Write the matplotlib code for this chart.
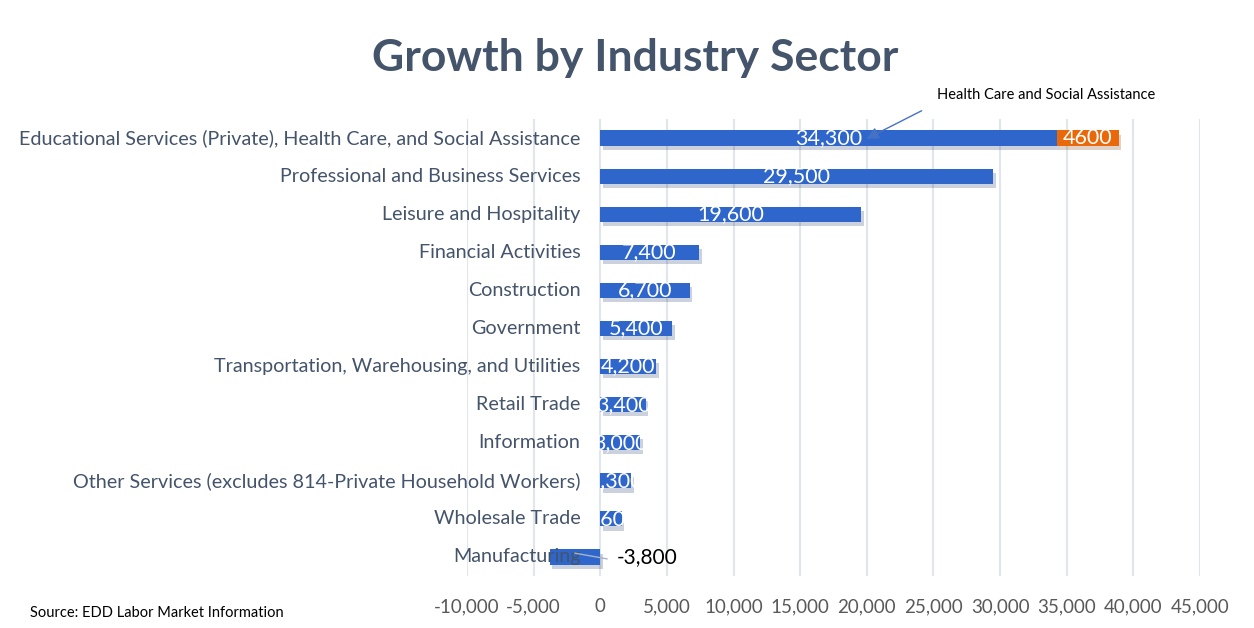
import matplotlib.pyplot as plt
import matplotlib.patheffects as pe
import numpy as np

# data (top to bottom)
sectors = ['Educational Services (Private), Health Care, and Social Assistance',
           'Professional and Business Services',
           'Leisure and Hospitality',
           'Financial Activities',
           'Construction',
           'Government',
           'Transportation, Warehousing, and Utilities',
           'Retail Trade',
           'Information',
           'Other Services (excludes 814-Private Household Workers)',
           'Wholesale Trade',
           'Manufacturing']
growth = [34300, 29500, 19600, 7400, 6700, 5400, 4200, 3400, 3000, 2300, 1600, -3800]
health_extra = [4600, 0, 0, 0, 0, 0, 0, 0, 0, 0, 0, 0]
xticks = list(range(-10000, 45001, 5000))

plt.rcParams['font.family'] = ['Lato', 'DejaVu Sans']

blue = '#2F66CC'
orange = '#E8680A'
txt_col = '#44546A'

fig = plt.figure(figsize=(12.54, 6.28), dpi=100)
ax = fig.add_axes([467 / 1254, 1 - 576 / 628, (1200 - 467) / 1254, (576 - 119) / 628])

y = np.arange(len(sectors))
shadow = [pe.SimplePatchShadow(offset=(2, -3), alpha=0.22, rho=0.5), pe.Normal()]

bars = ax.barh(y, growth, height=0.4, color=blue, zorder=3)
extra = ax.barh(y, health_extra, left=growth, height=0.4, color=orange, zorder=3)
for b in list(bars) + list(extra):
    b.set_path_effects(shadow)

ax.set_xlim(-10000, 45000)
ax.set_ylim(len(sectors) - 0.5, -0.5)
ax.set_xticks(xticks)
ax.set_xticklabels([f'{v:,}' for v in xticks])
ax.set_yticks([])
ax.tick_params(axis='x', length=0, pad=16, labelsize=13.5, labelcolor='#595959')
ax.grid(axis='x', color='#E1E5EC', lw=1.5, zorder=0)
for s in ax.spines.values():
    s.set_visible(False)

# category labels over the negative area
for i, name in enumerate(sectors):
    ax.text(-1500, i, name, ha='right', va='center', fontsize=14.2, color=txt_col, zorder=4)

# value labels, clipped to the bars
for i, (b, v) in enumerate(zip(bars, growth)):
    if v > 0:
        t = ax.text(v / 2, i, f'{v:,}', ha='center', va='center', fontsize=15.5,
                    color='white', zorder=5)
        t.set_clip_path(b)
    else:
        ax.text(1200, i, f'{v:,}', ha='left', va='center', fontsize=15,
                color='black', zorder=5)
        ax.plot([-1900, 500], [i - 0.1, i + 0.05], color='#A6B4C8', lw=1, zorder=4)

for b, base, v in zip(extra, growth, health_extra):
    if v > 0:
        ax.text(base + v / 2, 0, f'{v}', ha='center', va='center', fontsize=15.5,
                color='white', zorder=5)

ax.annotate('', xy=(19800, 0.05), xytext=(24300, -0.75),
            arrowprops=dict(arrowstyle='-|>', color='#4472C4', lw=1, mutation_scale=18),
            annotation_clip=False, zorder=6)
fig.text(937 / 1254, 1 - 95 / 628, 'Health Care and Social Assistance', ha='left', va='center',
         fontsize=10.5, color='black')

fig.text(635 / 1254, 1 - 58 / 628, 'Growth by Industry Sector', ha='center', va='center',
         fontsize=32, fontweight='bold', color=txt_col)
fig.text(30 / 1254, 1 - 613 / 628, 'Source: EDD Labor Market Information', ha='left', va='center',
         fontsize=10.5, color='black')

fig.savefig('out.png', dpi=100)
